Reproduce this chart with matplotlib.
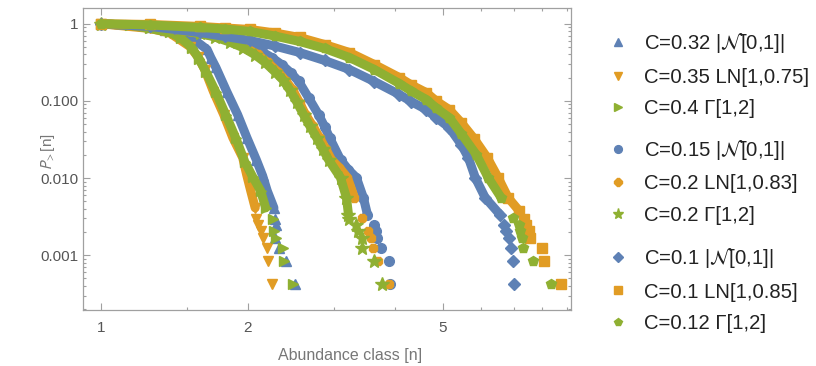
import matplotlib
matplotlib.use("Agg")
import matplotlib.pyplot as plt
from matplotlib.lines import Line2D

plt.rcParams['font.family'] = ['Liberation Sans', 'DejaVu Sans']
plt.rcParams['mathtext.fontset'] = 'stixsans'

# Mathematica default colours
blue = '#5E81B5'
orange = '#E19C24'
green = '#8FB032'

# ---- data: abundance class n and P_>(n) ----
# group 1 (steepest)
x_norm_032 = [1.00, 1.26, 1.352, 1.45, 1.56, 1.65, 1.679, 1.72, 1.81, 1.905, 1.99, 2.08, 2.143, 2.19, 2.26,
              2.27, 2.28, 2.27, 2.32, 2.39, 2.49]
p_norm_032 = [1.0, 0.895, 0.819, 0.726, 0.607, 0.464, 0.365, 0.271, 0.132, 0.0664, 0.0334, 0.0173, 0.0107,
              0.00684, 0.00411, 0.00292, 0.0025, 0.00167, 0.00125, 0.00083, 0.00042]

x_ln_035 = [1.00, 1.26, 1.384, 1.521, 1.579, 1.632, 1.70, 1.784, 1.862, 1.951, 1.988, 2.026, 2.069,
            2.074, 2.094, 2.123, 2.143, 2.184, 2.194, 2.236]
p_ln_035 = [1.0, 0.869, 0.76, 0.507, 0.376, 0.255, 0.132, 0.0664, 0.0334, 0.0184, 0.011, 0.00684, 0.00411,
            0.00292, 0.0025, 0.00208, 0.00167, 0.00125, 0.00083, 0.00042]

x_gam_04 = [1.00, 1.147, 1.26, 1.384, 1.458, 1.535, 1.587, 1.640, 1.718, 1.801, 1.887, 1.970, 2.045, 2.123, 2.174,
            2.246, 2.264, 2.278, 2.354, 2.373, 2.467]
p_gam_04 = [1.0, 0.951, 0.869, 0.771, 0.654, 0.492, 0.354, 0.240, 0.132, 0.0664, 0.0334, 0.0163, 0.0104, 0.00684,
            0.00411, 0.00292, 0.00208, 0.00167, 0.00125, 0.00083, 0.00042]

# group 2
x_norm_015 = [1.00, 1.26, 1.417, 1.594, 1.751, 1.923, 2.133, 2.236, 2.343, 2.444, 2.538, 2.660, 2.788, 2.869,
              2.937, 3.092, 3.210, 3.333, 3.444, 3.510,
              3.627, 3.656, 3.674, 3.743, 3.879, 3.905]
p_norm_015 = [1.0, 0.923, 0.856, 0.771, 0.684, 0.589, 0.437, 0.365, 0.296, 0.233, 0.180, 0.110, 0.0664, 0.0464,
              0.0334, 0.0173, 0.0128, 0.0101, 0.00555, 0.00337,
              0.0025, 0.00208, 0.00167, 0.00125, 0.00083, 0.00042]

x_ln_02 = [1.00, 1.26, 1.417, 1.594, 1.735, 1.862, 1.979, 2.094, 2.194, 2.299, 2.388, 2.467, 2.55, 2.623,
           2.711, 2.802, 2.882, 2.963, 3.077, 3.195, 3.302, 3.413,
           3.516, 3.571, 3.598, 3.684, 3.879]
p_ln_02 = [1.0, 0.923, 0.843, 0.748, 0.674, 0.58, 0.485, 0.40, 0.315, 0.24, 0.183, 0.14, 0.095, 0.0664,
           0.0479, 0.0334, 0.024, 0.0173, 0.0136, 0.0101, 0.00555, 0.00305,
           0.00208, 0.00167, 0.00125, 0.00083, 0.00042]

x_gam_02 = [1.00, 1.26, 1.417, 1.594, 1.711, 1.835, 1.951, 2.064, 2.163, 2.268, 2.354, 2.433, 2.514, 2.598,
            2.673, 2.762, 2.841, 2.922, 3.092, 3.180, 3.210,
            3.225, 3.328, 3.354, 3.413, 3.413, 3.614, 3.761]
p_gam_02 = [1.0, 0.923, 0.843, 0.748, 0.674, 0.58, 0.492, 0.399, 0.319, 0.24, 0.189, 0.14, 0.0979, 0.0664,
            0.0479, 0.0334, 0.024, 0.0173, 0.0101, 0.00555, 0.00337,
            0.00292, 0.0025, 0.00208, 0.00167, 0.00125, 0.00083, 0.00042]

# group 3 (flattest)
x_norm_01 = [1.00, 1.26, 1.594, 1.793, 2.017, 2.268, 2.550, 2.869, 3.225, 3.627, 4.079, 4.316, 4.633, 4.855,
             5.161, 5.459, 5.644, 5.832, 6.111, 6.556,
             6.682, 6.736, 6.842, 6.897, 6.948, 6.981]
p_norm_01 = [1.0, 0.923, 0.771, 0.684, 0.607, 0.515, 0.424, 0.334, 0.255, 0.178, 0.121, 0.0979, 0.0771, 0.0607,
             0.045, 0.0272, 0.0184, 0.0101, 0.00555, 0.00334,
             0.0025, 0.00208, 0.00167, 0.00125, 0.00083, 0.00042]

x_ln_01 = [1.00, 1.26, 1.594, 1.793, 2.017, 2.268, 2.550, 2.869, 3.225, 3.627, 4.079, 4.316, 4.633, 4.855,
           5.161, 5.459, 5.80, 6.169, 6.496, 6.809, 7.170,
           7.340, 7.399, 7.514, 7.551, 7.975, 8.062, 8.745]
p_ln_01 = [1.0, 0.979, 0.923, 0.882, 0.843, 0.76, 0.664, 0.538, 0.424, 0.296, 0.201, 0.161, 0.128, 0.0994,
           0.0771, 0.0523, 0.0324, 0.0184, 0.0101, 0.00555, 0.00376,
           0.00292, 0.0025, 0.00208, 0.00167, 0.00125, 0.00083, 0.00042]

x_gam_012 = [1.00, 1.26, 1.594, 1.793, 2.017, 2.268, 2.550, 2.869, 3.225, 3.627, 4.079, 4.316, 4.633, 4.855,
             5.161, 5.459, 5.860, 6.198, 6.588, 6.971,
             7.170, 7.204, 7.282, 7.316, 7.667, 8.343]
p_gam_012 = [1.0, 0.965, 0.895, 0.856, 0.794, 0.694, 0.589, 0.478, 0.365, 0.255, 0.168, 0.134, 0.104, 0.0806,
             0.0607, 0.0376, 0.0201, 0.0101, 0.00555, 0.00305,
             0.0025, 0.00208, 0.00167, 0.00125, 0.00083, 0.00042]

labels = [
    'C=0.32 |$\\mathcal{N}$[0,1]|', 'C=0.35 LN[1,0.75]', 'C=0.4 Γ[1,2]',
    'C=0.15 |$\\mathcal{N}$[0,1]|', 'C=0.2 LN[1,0.83]', 'C=0.2 Γ[1,2]',
    'C=0.1 |$\\mathcal{N}$[0,1]|', 'C=0.1 LN[1,0.85]', 'C=0.12 Γ[1,2]',
]

series = [
    (x_norm_032, p_norm_032, blue, '^', 7.5),
    (x_ln_035, p_ln_035, orange, 'v', 7.5),
    (x_gam_04, p_gam_04, green, '>', 7.5),
    (x_norm_015, p_norm_015, blue, 'o', 7),
    (x_ln_02, p_ln_02, orange, '8', 7),
    (x_gam_02, p_gam_02, green, '*', 10),
    (x_norm_01, p_norm_01, blue, 'D', 6),
    (x_ln_01, p_ln_01, orange, 's', 6.5),
    (x_gam_012, p_gam_012, green, 'p', 7.5),
]

fig = plt.figure(figsize=(8.16, 3.66), dpi=100)
ax = fig.add_axes([83 / 816, 56 / 366, 488 / 816, 302 / 366])

# dense part drawn as a thick band, sparse tail as single markers
for x, p, c, m, ms in series:
    xb = [a for a, b in zip(x, p) if b > 0.0031]
    pb = [b for b in p if b > 0.0031]
    ax.plot(xb, pb, color=c, lw=6.5, solid_capstyle='round', solid_joinstyle='round')
    ax.plot(x, p, ls='none', marker=m, ms=ms, color=c, mec=c)

ax.set_xscale('log')
ax.set_yscale('log')
ax.set_xlim(0.92, 9.15)
ax.set_ylim(1.95e-4, 1.6)

ax.set_xticks([1, 2, 5])
ax.set_xticklabels(['1', '2', '5'])
ax.set_xticks([1.5, 3, 4, 6, 7, 8, 9], minor=True)
ax.set_xticklabels([], minor=True)

ax.set_yticks([0.001, 0.01, 0.1, 1])
ax.set_yticklabels(['0.001', '0.010', '0.100', '1'])
yminor = [k * 10.0 ** e for e in range(-4, 0) for k in range(2, 10)]
ax.set_yticks(yminor, minor=True)
ax.set_yticklabels([], minor=True)

frame = '#A0A0A0'
for s in ax.spines.values():
    s.set_color(frame)
    s.set_linewidth(0.9)
ax.tick_params(which='both', direction='in', top=True, right=True, color=frame,
               labelcolor='#555555', labelsize=11, width=0.8)
ax.tick_params(which='major', length=5)
ax.tick_params(which='minor', length=2.5)
ax.tick_params(axis='x', which='major', pad=8)
ax.tick_params(axis='y', which='major', pad=3.5)

ax.set_xlabel('Abundance class [n]', color='#777777', fontsize=11.5)
ax.xaxis.set_label_coords(0.547, -0.125)
ax.set_ylabel('$P_{>}$[n]', color='#777777', fontsize=11)
ax.yaxis.set_label_coords(-0.053, 0.525)

# legend in three groups, like the original
tops = [0.915, 0.624, 0.328]
for g in range(3):
    hs = []
    for x, p, c, m, ms in series[3 * g:3 * g + 3]:
        hs.append(Line2D([], [], ls='none', marker=m, color=c, mec=c, ms=ms * 0.8))
    fig.legend(hs, labels[3 * g:3 * g + 3], loc='upper left', bbox_to_anchor=(0.745, tops[g]),
               frameon=False, fontsize=14.6, handlelength=1.0, handletextpad=0.8,
               labelspacing=0.62, borderaxespad=0, borderpad=0, labelcolor='#222222')

fig.savefig('out.png', dpi=100)
